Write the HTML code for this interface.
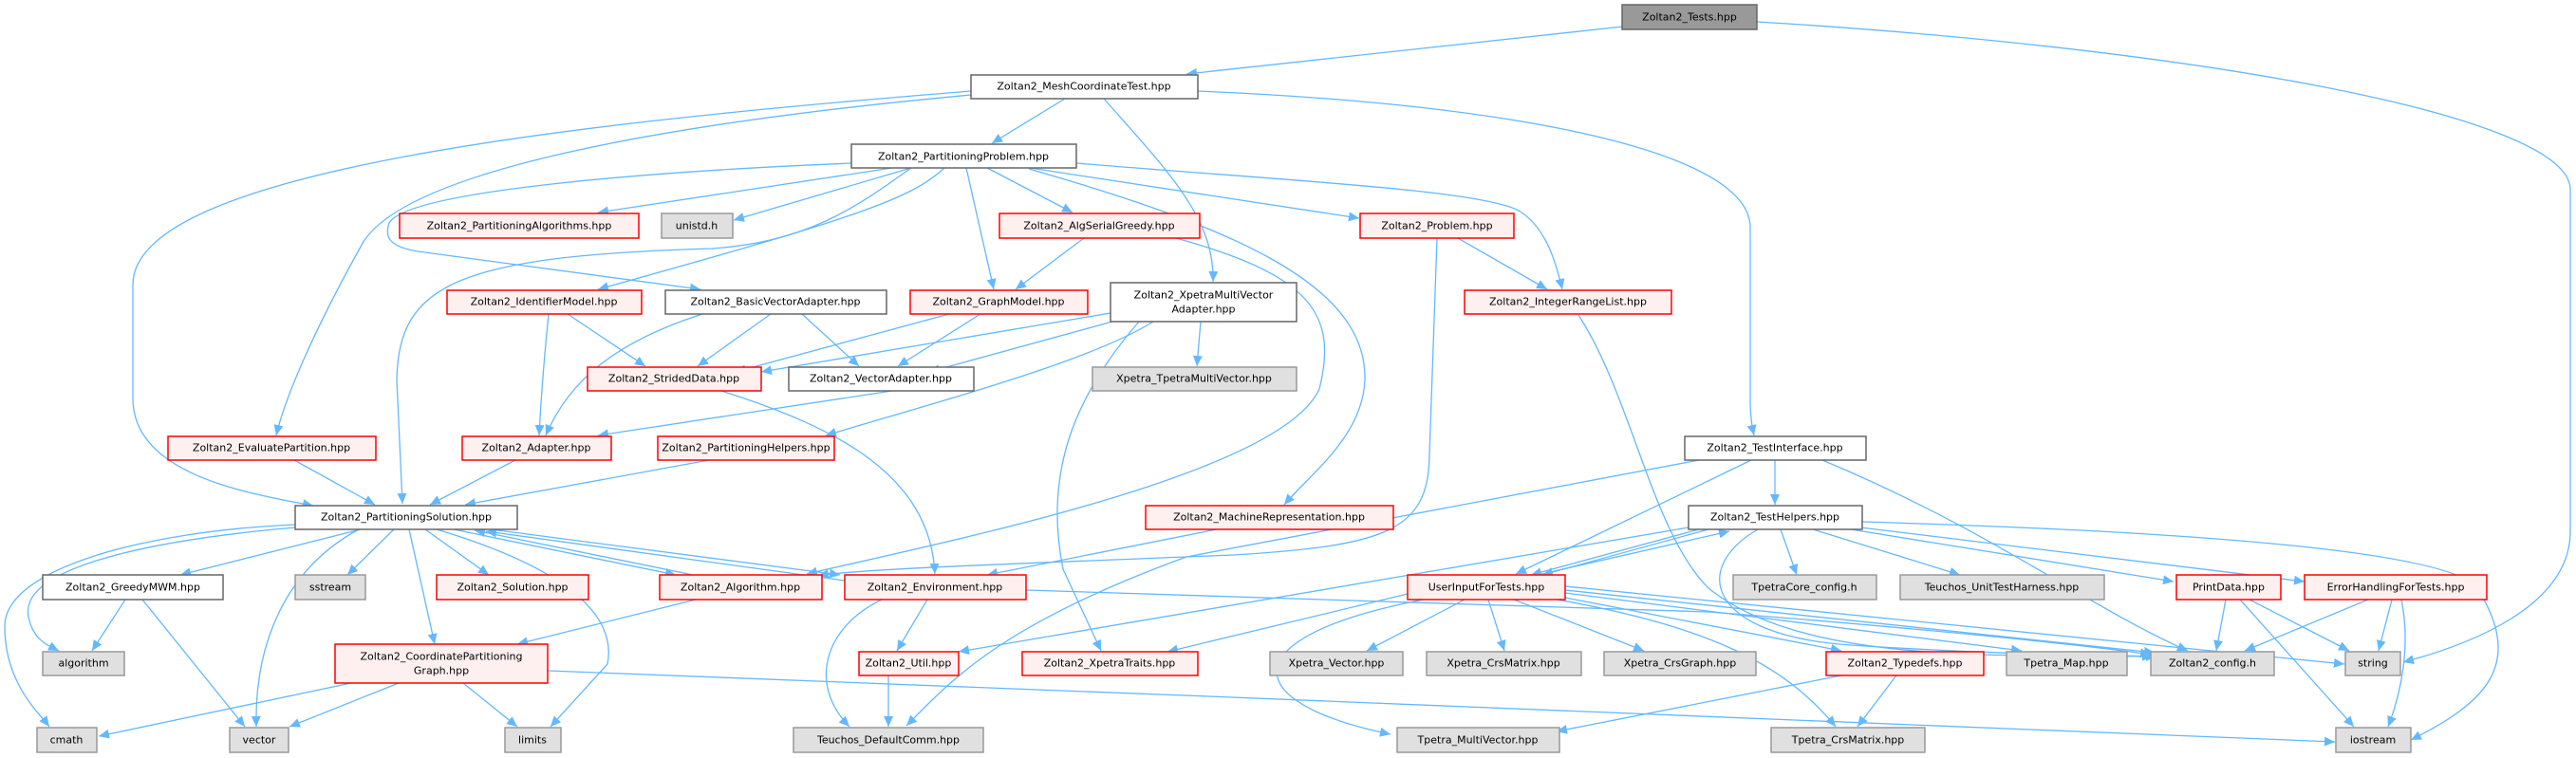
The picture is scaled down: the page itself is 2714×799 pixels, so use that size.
<!DOCTYPE html>
<html><head><meta charset="utf-8"><style>
html,body{margin:0;padding:0;background:#fff;}
svg{display:block}
text{font-family:"DejaVu Sans","Liberation Sans",sans-serif;font-size:11px;fill:#000;text-anchor:middle;dominant-baseline:central}
.n rect{fill:#fff;stroke:#666;stroke-width:1.5}
.r rect{fill:#fff0f0;stroke:#f00;stroke-width:1.5}
.g rect{fill:#e0e0e0;stroke:#999;stroke-width:1.5}
.t rect{fill:#999;stroke:#666;stroke-width:1.5}
path.e{fill:none;stroke:#63b8ff;stroke-width:1.3}
</style></head><body>
<svg width="2714" height="799" viewBox="0 0 2714 799" xmlns="http://www.w3.org/2000/svg">
<defs><marker id="a" markerUnits="userSpaceOnUse" markerWidth="12" markerHeight="10" refX="11" refY="5" orient="auto"><path d="M0,0 L11,5 L0,10 z" fill="#63b8ff"/></marker></defs>
<g marker-end="url(#a)">
<path class="e" d="M1710,28 L1250,78"/>
<path class="e" d="M1851,23 C2300,50 2708,120 2708,200 L2708,560 C2708,640 2600,680 2532,698"/>
<path class="e" d="M1122,104 L1045,151"/>
<path class="e" d="M1163,104 C1230,180 1280,230 1278,297"/>
<path class="e" d="M1262,96 C1600,110 1844,160 1844,240 L1844,420 C1844,440 1846,450 1848,459"/>
<path class="e" d="M1023,96 C600,130 140,180 140,300 L140,420 C140,500 260,520 330,533"/>
<path class="e" d="M1023,100 C700,130 420,180 380,260 C330,350 300,420 291,459"/>
<path class="e" d="M898,172 C700,180 430,200 410,235 C405,250 410,260 440,265 L738,305"/>
<path class="e" d="M960,177 C900,220 850,255 750,262 C480,270 420,300 418,400 L424,531"/>
<path class="e" d="M940,177 L630,224"/>
<path class="e" d="M960,177 L773,232"/>
<path class="e" d="M995,177 C960,210 900,230 630,305"/>
<path class="e" d="M1018,177 L1047,305"/>
<path class="e" d="M1040,177 L1130,224"/>
<path class="e" d="M1085,177 L1432,230"/>
<path class="e" d="M1134,172 C1350,190 1560,200 1600,222 C1630,240 1640,280 1646,305"/>
<path class="e" d="M1084,178 C1300,240 1440,300 1438,400 C1436,460 1380,500 1353,532"/>
<path class="e" d="M1142,251 L1070,305"/>
<path class="e" d="M1239,251 C1380,290 1410,330 1390,410 C1350,500 1000,570 850,605"/>
<path class="e" d="M1536,251 L1630,305"/>
<path class="e" d="M1514,251 L1506,480 C1505,560 1460,575 1300,585 C1050,595 900,600 862,607"/>
<path class="e" d="M1663,332 C1720,420 1740,560 1800,620 C1900,700 2100,690 2272,692"/>
<path class="e" d="M598,331 L680,386"/>
<path class="e" d="M578,331 C573,380 570,420 568,459"/>
<path class="e" d="M812,331 L735,386"/>
<path class="e" d="M845,331 L905,386"/>
<path class="e" d="M740,331 C650,360 600,400 575,459"/>
<path class="e" d="M1000,331 L775,392"/>
<path class="e" d="M1033,331 L946,386"/>
<path class="e" d="M1170,330 L802,392"/>
<path class="e" d="M1183,336 L979,392"/>
<path class="e" d="M1265,339 L1261,386"/>
<path class="e" d="M1215,339 C1150,380 1000,420 870,459"/>
<path class="e" d="M1200,339 C1130,420 1100,500 1120,600 L1160,686"/>
<path class="e" d="M760,412 C880,450 980,500 985,605"/>
<path class="e" d="M940,412 L630,459"/>
<path class="e" d="M310,485 L395,532"/>
<path class="e" d="M543,485 L453,532"/>
<path class="e" d="M747,485 L490,532"/>
<path class="e" d="M1282,558 L1040,606"/>
<path class="e" d="M380,558 L190,606"/>
<path class="e" d="M415,558 L366,606"/>
<path class="e" d="M448,558 L515,606"/>
<path class="e" d="M478,558 L712,606"/>
<path class="e" d="M730,606 L500,559"/>
<path class="e" d="M517,558 L885,606"/>
<path class="e" d="M890,612 L512,560"/>
<path class="e" d="M431,558 L458,679"/>
<path class="e" d="M378,558 C300,600 268,680 270,766"/>
<path class="e" d="M460,558 C600,600 650,650 640,700 L580,766"/>
<path class="e" d="M311,556 C150,570 20,600 30,650 C35,675 50,680 62,686"/>
<path class="e" d="M311,553 C150,560 5,600 5,660 C5,720 40,750 52,766"/>
<path class="e" d="M132,632 L97,686"/>
<path class="e" d="M150,632 L258,766"/>
<path class="e" d="M733,632 L545,679"/>
<path class="e" d="M370,720 L104,776"/>
<path class="e" d="M420,720 L305,766"/>
<path class="e" d="M488,720 L545,766"/>
<path class="e" d="M577,707 C1200,730 1900,760 2460,782"/>
<path class="e" d="M977,632 L945,686"/>
<path class="e" d="M929,632 C870,660 850,720 895,766"/>
<path class="e" d="M1081,622 L1800,645 C2000,660 2200,680 2266,690"/>
<path class="e" d="M936,712 L936,766"/>
<path class="e" d="M1870,485 L1870,532"/>
<path class="e" d="M1845,485 L1597,605"/>
<path class="e" d="M1790,485 L1250,587 C1050,660 1000,720 955,765"/>
<path class="e" d="M1920,485 C2100,560 2200,640 2305,686"/>
<path class="e" d="M1790,558 L1613,606"/>
<path class="e" d="M1800,558 L1625,606"/>
<path class="e" d="M1620,606 L1822,560"/>
<path class="e" d="M1876,558 L1893,606"/>
<path class="e" d="M1910,558 L2065,606"/>
<path class="e" d="M1950,558 L2290,613"/>
<path class="e" d="M1960,556 L2428,613"/>
<path class="e" d="M1962,550 C2300,560 2580,580 2610,620 C2660,700 2620,740 2540,780"/>
<path class="e" d="M1779,556 L1010,687"/>
<path class="e" d="M1852,558 C1780,600 1800,670 1950,680 C2100,690 2200,690 2268,692"/>
<path class="e" d="M1543,632 L1440,686"/>
<path class="e" d="M1568,632 L1585,686"/>
<path class="e" d="M1595,632 L1732,686"/>
<path class="e" d="M1483,626 L1230,687"/>
<path class="e" d="M1500,632 C1300,670 1300,740 1465,774"/>
<path class="e" d="M1649,630 L1940,686"/>
<path class="e" d="M1649,625 L2130,686"/>
<path class="e" d="M1649,622 L2270,688"/>
<path class="e" d="M1649,618 L2470,700"/>
<path class="e" d="M1640,632 C1800,660 1880,700 1934,766"/>
<path class="e" d="M1940,712 L1640,771"/>
<path class="e" d="M1998,712 L1957,766"/>
<path class="e" d="M2345,632 L2335,686"/>
<path class="e" d="M2370,632 L2475,686"/>
<path class="e" d="M2360,632 L2480,766"/>
<path class="e" d="M2495,632 L2365,686"/>
<path class="e" d="M2520,632 L2506,686"/>
<path class="e" d="M2530,632 C2540,680 2530,730 2516,766"/>
</g>
<g class="t"><rect x="1709" y="5" width="142" height="26"/><text x="1780" y="18">Zoltan2_Tests.hpp</text></g>
<g class="n"><rect x="1023" y="79" width="239" height="25"/><text x="1142" y="91">Zoltan2_MeshCoordinateTest.hpp</text></g>
<g class="n"><rect x="897" y="152" width="237" height="25"/><text x="1015" y="165">Zoltan2_PartitioningProblem.hpp</text></g>
<g class="r"><rect x="421" y="225" width="252" height="26"/><text x="547" y="238">Zoltan2_PartitioningAlgorithms.hpp</text></g>
<g class="g"><rect x="697" y="225" width="75" height="26"/><text x="734" y="238">unistd.h</text></g>
<g class="r"><rect x="1053" y="225" width="211" height="26"/><text x="1158" y="238">Zoltan2_AlgSerialGreedy.hpp</text></g>
<g class="r"><rect x="1433" y="225" width="162" height="26"/><text x="1514" y="238">Zoltan2_Problem.hpp</text></g>
<g class="r"><rect x="471" y="306" width="205" height="25"/><text x="573" y="318">Zoltan2_IdentifierModel.hpp</text></g>
<g class="n"><rect x="701" y="306" width="233" height="25"/><text x="817" y="318">Zoltan2_BasicVectorAdapter.hpp</text></g>
<g class="r"><rect x="959" y="306" width="187" height="25"/><text x="1052" y="318">Zoltan2_GraphModel.hpp</text></g>
<g class="n"><rect x="1170" y="298" width="196" height="41"/><text x="1268" y="311">Zoltan2_XpetraMultiVector</text><text x="1268" y="326">Adapter.hpp</text></g>
<g class="r"><rect x="1543" y="306" width="218" height="25"/><text x="1652" y="318">Zoltan2_IntegerRangeList.hpp</text></g>
<g class="r"><rect x="619" y="387" width="183" height="25"/><text x="710" y="399">Zoltan2_StridedData.hpp</text></g>
<g class="n"><rect x="831" y="387" width="195" height="25"/><text x="928" y="399">Zoltan2_VectorAdapter.hpp</text></g>
<g class="g"><rect x="1151" y="387" width="215" height="25"/><text x="1258" y="399">Xpetra_TpetraMultiVector.hpp</text></g>
<g class="n"><rect x="1775" y="460" width="191" height="25"/><text x="1870" y="472">Zoltan2_TestInterface.hpp</text></g>
<g class="r"><rect x="177" y="460" width="219" height="25"/><text x="286" y="472">Zoltan2_EvaluatePartition.hpp</text></g>
<g class="r"><rect x="487" y="460" width="157" height="25"/><text x="565" y="472">Zoltan2_Adapter.hpp</text></g>
<g class="r"><rect x="693" y="460" width="186" height="25"/><text x="786" y="472">Zoltan2_PartitioningHelpers.hpp</text></g>
<g class="n"><rect x="311" y="533" width="234" height="25"/><text x="428" y="545">Zoltan2_PartitioningSolution.hpp</text></g>
<g class="r"><rect x="1207" y="533" width="261" height="25"/><text x="1337" y="545">Zoltan2_MachineRepresentation.hpp</text></g>
<g class="n"><rect x="1779" y="533" width="183" height="25"/><text x="1870" y="545">Zoltan2_TestHelpers.hpp</text></g>
<g class="n"><rect x="45" y="606" width="190" height="26"/><text x="140" y="619">Zoltan2_GreedyMWM.hpp</text></g>
<g class="g"><rect x="311" y="606" width="74" height="26"/><text x="348" y="619">sstream</text></g>
<g class="r"><rect x="460" y="606" width="160" height="26"/><text x="540" y="619">Zoltan2_Solution.hpp</text></g>
<g class="r"><rect x="695" y="606" width="171" height="26"/><text x="780" y="619">Zoltan2_Algorithm.hpp</text></g>
<g class="r"><rect x="890" y="606" width="191" height="26"/><text x="985" y="619">Zoltan2_Environment.hpp</text></g>
<g class="r"><rect x="1483" y="606" width="166" height="26"/><text x="1566" y="619">UserInputForTests.hpp</text></g>
<g class="g"><rect x="1826" y="606" width="151" height="26"/><text x="1901" y="619">TpetraCore_config.h</text></g>
<g class="g"><rect x="2002" y="606" width="215" height="26"/><text x="2109" y="619">Teuchos_UnitTestHarness.hpp</text></g>
<g class="r"><rect x="2293" y="606" width="110" height="26"/><text x="2348" y="619">PrintData.hpp</text></g>
<g class="r"><rect x="2428" y="606" width="192" height="26"/><text x="2524" y="619">ErrorHandlingForTests.hpp</text></g>
<g class="g"><rect x="45" y="687" width="86" height="25"/><text x="88" y="699">algorithm</text></g>
<g class="r"><rect x="353" y="679" width="224" height="41"/><text x="465" y="692">Zoltan2_CoordinatePartitioning</text><text x="465" y="707">Graph.hpp</text></g>
<g class="r"><rect x="905" y="687" width="105" height="25"/><text x="957" y="699">Zoltan2_Util.hpp</text></g>
<g class="r"><rect x="1077" y="687" width="185" height="25"/><text x="1169" y="699">Zoltan2_XpetraTraits.hpp</text></g>
<g class="g"><rect x="1338" y="687" width="140" height="25"/><text x="1408" y="699">Xpetra_Vector.hpp</text></g>
<g class="g"><rect x="1503" y="687" width="163" height="25"/><text x="1584" y="699">Xpetra_CrsMatrix.hpp</text></g>
<g class="g"><rect x="1690" y="687" width="160" height="25"/><text x="1770" y="699">Xpetra_CrsGraph.hpp</text></g>
<g class="r"><rect x="1924" y="687" width="166" height="25"/><text x="2007" y="699">Zoltan2_Typedefs.hpp</text></g>
<g class="g"><rect x="2114" y="687" width="127" height="25"/><text x="2177" y="699">Tpetra_Map.hpp</text></g>
<g class="g"><rect x="2266" y="687" width="130" height="25"/><text x="2331" y="699">Zoltan2_config.h</text></g>
<g class="g"><rect x="2471" y="687" width="58" height="25"/><text x="2500" y="699">string</text></g>
<g class="g"><rect x="39" y="767" width="63" height="26"/><text x="70" y="780">cmath</text></g>
<g class="g"><rect x="242" y="767" width="62" height="26"/><text x="273" y="780">vector</text></g>
<g class="g"><rect x="532" y="767" width="59" height="26"/><text x="561" y="780">limits</text></g>
<g class="g"><rect x="836" y="767" width="200" height="26"/><text x="936" y="780">Teuchos_DefaultComm.hpp</text></g>
<g class="g"><rect x="1472" y="767" width="171" height="26"/><text x="1557" y="780">Tpetra_MultiVector.hpp</text></g>
<g class="g"><rect x="1866" y="767" width="162" height="26"/><text x="1947" y="780">Tpetra_CrsMatrix.hpp</text></g>
<g class="g"><rect x="2461" y="767" width="79" height="26"/><text x="2500" y="780">iostream</text></g>
</svg>
</body></html>
